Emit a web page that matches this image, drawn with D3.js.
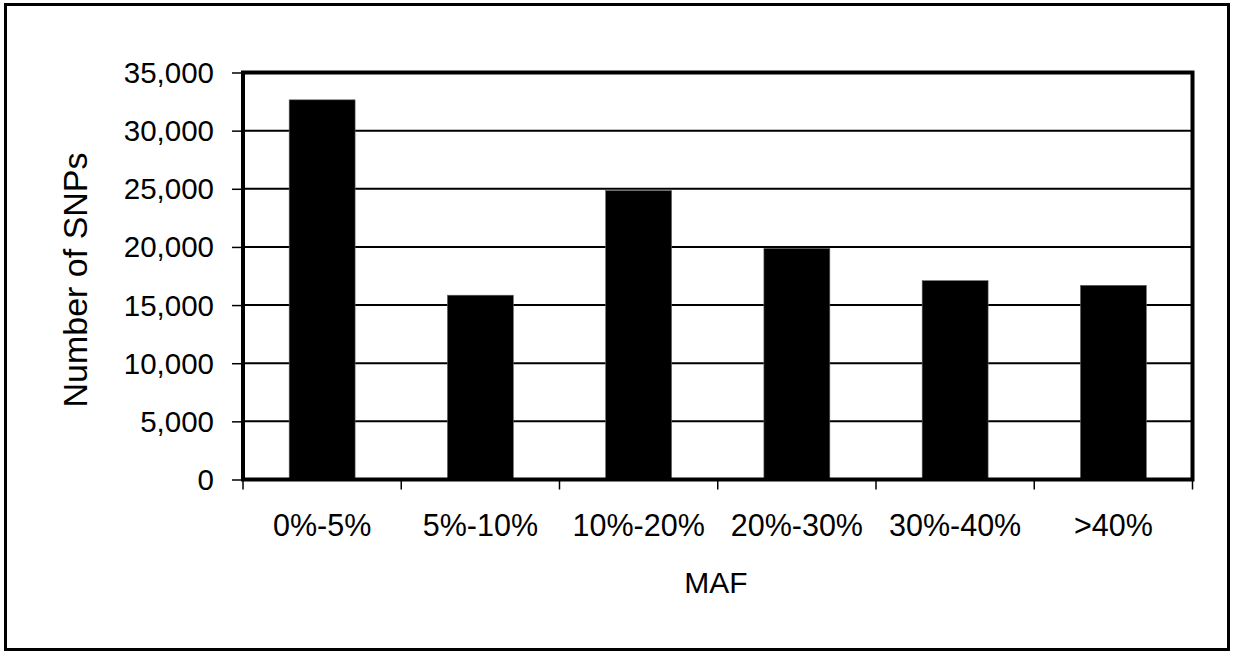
<!DOCTYPE html>
<html><head><meta charset="utf-8">
<script src="https://cdn.jsdelivr.net/npm/d3@7/dist/d3.min.js"></script>
<style>html,body{margin:0;padding:0;background:#fff;}svg{display:block;}text{font-family:"Liberation Sans",Arial,sans-serif;fill:#000;}</style>
</head><body>
<svg id="chart" width="1235" height="652"></svg>
<script>
const categories = ["0%-5%", "5%-10%", "10%-20%", "20%-30%", "30%-40%", ">40%"];
const snpCounts = [32650, 15850, 24850, 19880, 17100, 16700];
const yTicks = [0, 5000, 10000, 15000, 20000, 25000, 30000, 35000];
const yTitle = "Number of SNPs";
const xTitle = "MAF";

const svg = d3.select("#chart");
const L = 243, R = 1192.5, T = 72.5, B = 479.5;

svg.append("rect").attr("x", 5.5).attr("y", 4.5).attr("width", 1223).attr("height", 645)
  .attr("fill", "#fff").attr("stroke", "#000").attr("stroke-width", 3);

const x = d3.scaleBand().domain(categories).range([L, R]).paddingInner(0.5833).paddingOuter(0.29167);
const y = d3.scaleLinear().domain([0, 35000]).range([B, T]);

// gridlines
svg.append("g").selectAll("line").data(yTicks.filter(d => d > 0 && d < 35000)).join("line")
  .attr("x1", L).attr("x2", R).attr("y1", d => y(d)).attr("y2", d => y(d))
  .attr("stroke", "#000").attr("stroke-width", 2);

// bars
svg.append("g").selectAll("rect").data(categories).join("rect")
  .attr("x", d => x(d)).attr("width", x.bandwidth())
  .attr("y", (d, i) => y(snpCounts[i])).attr("height", (d, i) => B - y(snpCounts[i]))
  .attr("fill", "#000").attr("stroke", "#666").attr("stroke-width", 0.6);

// plot border
svg.append("rect").attr("x", L).attr("y", T).attr("width", R - L).attr("height", B - T)
  .attr("fill", "none").attr("stroke", "#000").attr("stroke-width", 4);

// y axis
const yAxis = svg.append("g").attr("transform", `translate(${L},0)`)
  .call(d3.axisLeft(y).tickValues(yTicks).tickFormat(d3.format(",")).tickSize(11).tickPadding(18));
yAxis.select(".domain").remove();
yAxis.selectAll(".tick line").attr("stroke", "#000").attr("stroke-width", 1.5);
yAxis.selectAll(".tick text").attr("font-size", 29.5).attr("font-family", '"Liberation Sans",Arial,sans-serif').attr("dy", "0.34em");

// x boundary ticks
const bounds = d3.range(categories.length + 1).map(i => x.range()[0] + i * x.step());
svg.append("g").selectAll("line").data(bounds).join("line")
  .attr("x1", d => d).attr("x2", d => d).attr("y1", B).attr("y2", B + 10)
  .attr("stroke", "#000").attr("stroke-width", 1.5);

// category labels
svg.append("g").selectAll("text").data(categories).join("text")
  .attr("x", d => x(d) + x.bandwidth() / 2).attr("y", 536)
  .attr("text-anchor", "middle").attr("font-size", 30.5).text(d => d);

// axis titles
svg.append("text").attr("x", 716).attr("y", 593).attr("text-anchor", "middle")
  .attr("font-size", 30).text(xTitle);
svg.append("text").attr("transform", "translate(87,280) rotate(-90)").attr("text-anchor", "middle")
  .attr("font-size", 34).text(yTitle);
</script>
</body></html>
